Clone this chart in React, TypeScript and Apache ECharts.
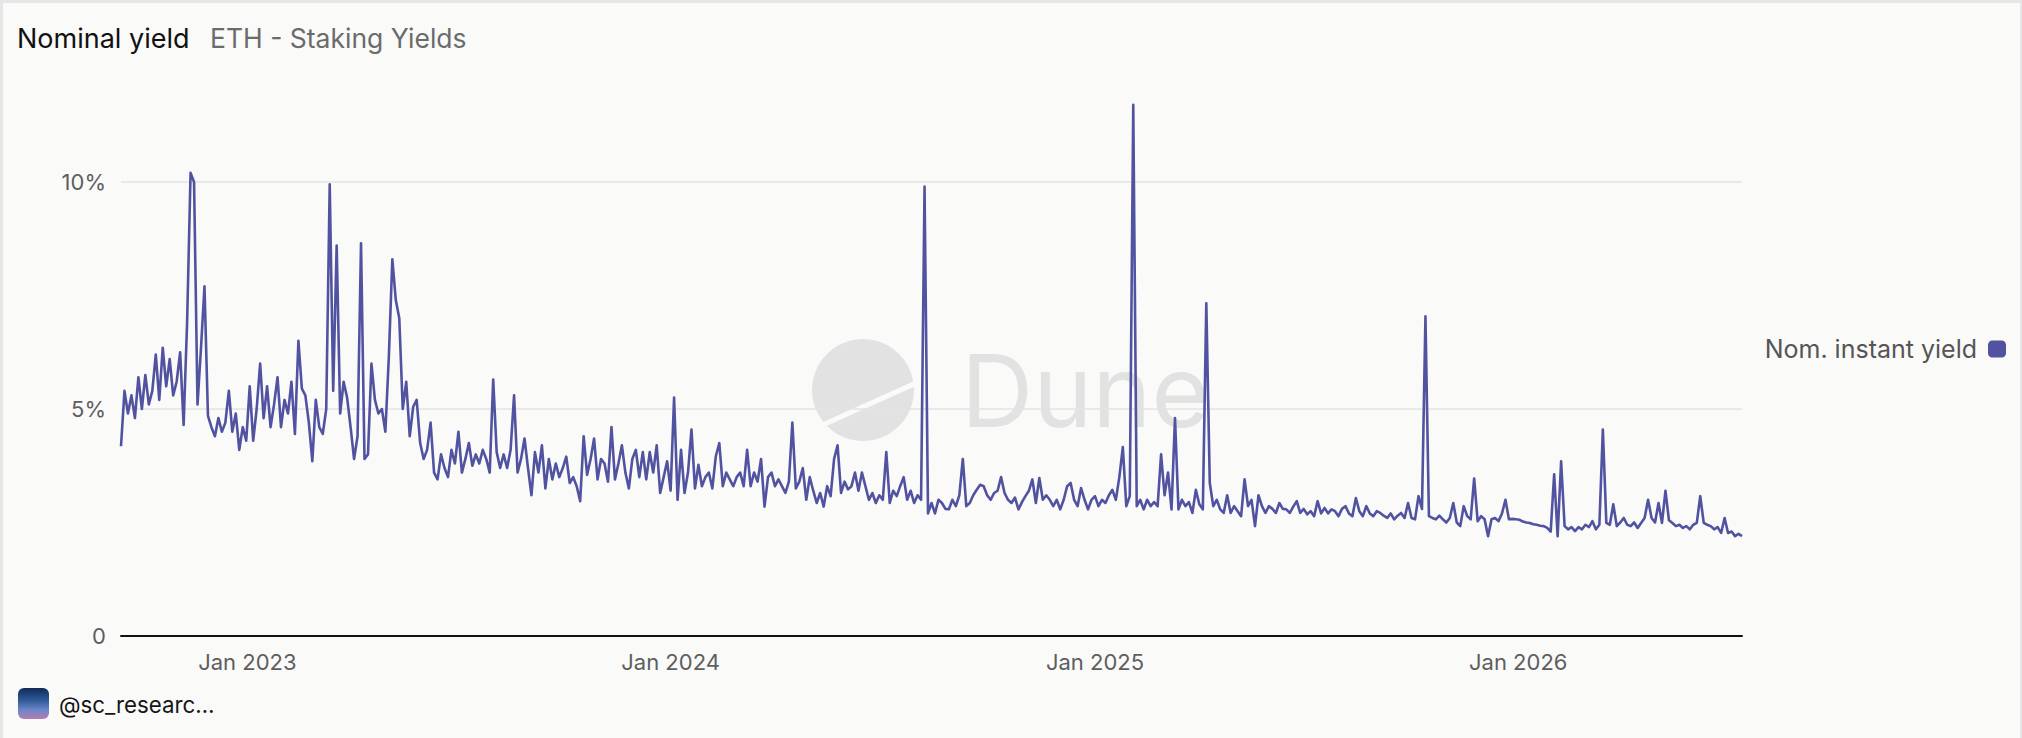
import React, { useEffect, useRef } from 'react';
import * as echarts from 'echarts';

// Series: "Nom. instant yield" (%), sampled every 3 days from 2022-09-14
const START_DATE = [2022, 8, 14];
const STEP_DAYS = 3;

const yieldSeg1 = [
  4.18, 5.4, 4.9, 5.3, 4.8, 5.7, 5.0, 5.75, 5.1, 5.4,
  6.2, 5.2, 6.35, 5.5, 6.1, 5.3, 5.6, 6.25, 4.65, 6.9,
  10.2, 10.0, 5.1, 6.35, 7.7, 4.85, 4.6, 4.4, 4.8, 4.5,
  4.7, 5.4, 4.5, 4.9, 4.1, 4.6, 4.3, 5.5, 4.3, 5.0,
  6.0, 4.8, 5.5, 4.6, 5.1, 5.7, 4.6, 5.2, 4.9, 5.6,
  4.45, 6.5, 5.45, 5.3, 4.7, 3.85, 5.2, 4.6, 4.45, 5.0,
];
const yieldSeg2 = [
  9.95, 5.4, 8.6, 4.9, 5.6, 5.25, 4.6, 3.9, 4.4, 8.65,
  3.9, 4.0, 6.0, 5.2, 4.9, 5.0, 4.5, 6.15, 8.3, 7.4,
  7.0, 5.0, 5.6, 4.4, 5.05, 5.2, 4.25, 3.9, 4.1, 4.7,
  3.6, 3.45, 4.0, 3.7, 3.5, 4.1, 3.8, 4.5, 3.6, 3.9,
  4.25, 3.75, 4.0, 3.8, 4.1, 3.9, 3.6, 5.65, 4.05, 3.7,
  4.0, 3.7, 4.1, 5.3, 3.6, 3.9, 4.35, 3.7, 3.1, 4.05,
];
const yieldSeg3 = [
  3.6, 4.2, 3.25, 3.9, 3.45, 3.8, 3.5, 3.7, 3.95, 3.37,
  3.5, 3.3, 2.97, 4.4, 3.55, 3.9, 4.35, 3.45, 3.9, 3.8,
  3.4, 4.6, 3.45, 3.8, 4.2, 3.6, 3.25, 3.9, 4.1, 3.5,
  4.05, 3.45, 4.05, 3.6, 4.2, 3.15, 3.5, 3.85, 3.2, 5.25,
  3.0, 4.1, 3.15, 3.6, 4.55, 3.25, 3.77, 3.3, 3.5, 3.6,
  3.25, 3.96, 4.25, 3.3, 3.6, 3.45, 3.3, 3.5, 3.6, 3.3,
];
const yieldSeg4 = [
  4.1, 3.3, 3.6, 3.4, 3.9, 2.85, 3.5, 3.6, 3.3, 3.45,
  3.3, 3.15, 3.4, 4.7, 3.25, 3.4, 3.7, 3.0, 3.5, 3.2,
  2.93, 3.15, 2.85, 3.3, 3.08, 3.9, 4.2, 3.15, 3.4, 3.23,
  3.3, 3.6, 3.2, 3.6, 3.3, 3.0, 3.15, 2.93, 3.1, 3.0,
  4.05, 2.93, 3.2, 3.08, 3.3, 3.5, 3.0, 3.2, 2.93, 3.1,
  3.0, 9.9, 2.7, 2.93, 2.7, 3.0, 2.93, 2.8, 2.79, 3.0,
];
const yieldSeg5 = [
  2.86, 3.1, 3.9, 2.86, 2.93, 3.1, 3.22, 3.33, 3.3, 3.1,
  3.0, 3.15, 3.2, 3.5, 3.15, 3.0, 2.93, 3.05, 2.79, 2.95,
  3.08, 3.2, 3.45, 2.93, 3.48, 3.0, 3.1, 3.0, 2.86, 3.0,
  2.79, 3.0, 3.3, 3.37, 3.0, 2.86, 3.26, 3.0, 2.79, 3.0,
  3.08, 2.86, 3.0, 2.93, 3.1, 3.22, 3.0, 3.5, 4.16, 2.86,
  3.08, 11.7, 2.86, 3.0, 2.79, 3.0, 2.86, 2.95, 2.86, 4.0,
];
const yieldSeg6 = [
  3.1, 3.6, 2.79, 4.8, 2.79, 3.0, 2.86, 2.95, 2.71, 3.22,
  2.9, 2.79, 7.33, 3.37, 2.86, 3.0, 2.79, 2.71, 3.1, 2.71,
  2.86, 2.75, 2.64, 3.45, 2.86, 3.0, 2.42, 3.1, 2.86, 2.71,
  2.86, 2.8, 2.71, 2.93, 2.8, 2.79, 2.71, 2.85, 2.97, 2.71,
  2.8, 2.68, 2.75, 2.64, 2.97, 2.7, 2.82, 2.7, 2.79, 2.75,
  2.64, 2.8, 2.86, 2.7, 2.64, 3.04, 2.75, 2.64, 2.86, 2.7,
];
const yieldSeg7 = [
  2.64, 2.75, 2.71, 2.65, 2.6, 2.7, 2.57, 2.65, 2.71, 2.6,
  2.93, 2.6, 2.57, 3.08, 2.8, 7.04, 2.64, 2.6, 2.57, 2.65,
  2.57, 2.5, 2.6, 2.93, 2.5, 2.42, 2.86, 2.64, 2.57, 3.47,
  2.53, 2.64, 2.57, 2.2, 2.57, 2.6, 2.53, 2.7, 3.0, 2.57,
  2.58, 2.57, 2.56, 2.52, 2.5, 2.49, 2.46, 2.45, 2.43, 2.42,
  2.38, 2.3, 3.56, 2.2, 3.85, 2.42, 2.35, 2.4, 2.31, 2.4,
];
const yieldSeg8 = [
  2.35, 2.45, 2.4, 2.53, 2.35, 2.45, 4.55, 2.49, 2.45, 2.9,
  2.42, 2.5, 2.6, 2.45, 2.42, 2.5, 2.38, 2.49, 2.6, 3.0,
  2.6, 2.5, 2.93, 2.49, 3.2, 2.55, 2.49, 2.42, 2.45, 2.38,
  2.42, 2.35, 2.45, 2.49, 3.08, 2.49, 2.45, 2.42, 2.35, 2.4,
  2.27, 2.6, 2.27, 2.3, 2.2, 2.25, 2.2,
];

const SERIES_NAME = 'Nom. instant yield';
const TITLE = 'Nominal yield';
const SUBTITLE = 'ETH - Staking Yields';
const HANDLE = '@sc_researc…';
const MONTHS = ['Jan', 'Feb', 'Mar', 'Apr', 'May', 'Jun', 'Jul', 'Aug', 'Sep', 'Oct', 'Nov', 'Dec'];

const BG = '#fafaf9';
const LINE = '#5153a1';
const FONT = 'Inter';

export default function App() {
  const ref = useRef<HTMLDivElement>(null);

  useEffect(() => {
    const el = ref.current;
    if (!el) return;
    const chart = echarts.init(el, null, { renderer: 'svg' });
    const values = [
      ...yieldSeg1, ...yieldSeg2, ...yieldSeg3, ...yieldSeg4,
      ...yieldSeg5, ...yieldSeg6, ...yieldSeg7, ...yieldSeg8,
    ];
    const data = values.map((v, i) => [
      new Date(START_DATE[0], START_DATE[1], START_DATE[2] + STEP_DAYS * i).getTime(),
      v,
    ]);

    chart.setOption({
      animation: false,
      backgroundColor: BG,
      grid: { left: 121, right: 280, top: 68.5, bottom: 102, containLabel: false, outerBoundsMode: 'none' },
      legend: {
        data: [SERIES_NAME],
        right: 16,
        top: 336,
        padding: 0,
        align: 'right',
        icon: 'roundRect',
        itemWidth: 18,
        itemHeight: 17,
        selectedMode: false,
        textStyle: { fontFamily: FONT, fontSize: 25, color: '#555555', lineHeight: 26, padding: [0, 6, 0, 0] },
      },
      xAxis: {
        type: 'time',
        min: 'dataMin',
        max: 'dataMax',
        axisLine: { show: true, lineStyle: { color: '#111111', width: 2 } },
        axisTick: { show: false },
        splitLine: { show: false },
        axisLabel: {
          fontFamily: FONT,
          fontSize: 22,
          color: '#5e5e5e',
          margin: 15,
          hideOverlap: false,
          formatter: (val: number) => {
            const d = new Date(val);
            if (d.getMonth() === 0 && d.getDate() === 1) return MONTHS[0] + ' ' + d.getFullYear();
            return '';
          },
        },
      },
      yAxis: {
        type: 'value',
        min: 0,
        max: 12.5,
        interval: 5,
        axisLine: { show: false },
        axisTick: { show: false },
        splitLine: {
          show: true,
          showMinLine: false,
          showMaxLine: false,
          lineStyle: { color: '#e3e3e3', width: 1.5 },
        },
        axisLabel: {
          fontFamily: FONT,
          fontSize: 22,
          color: '#5e5e5e',
          margin: 15,
          showMaxLabel: false,
          formatter: (v: number) => (v === 0 ? '0' : v % 5 === 0 ? v + '%' : ''),
        },
      },
      series: [
        {
          name: SERIES_NAME,
          type: 'line',
          data,
          symbol: 'none',
          showSymbol: false,
          z: 3,
          lineStyle: { color: LINE, width: 2.6, join: 'round' },
          itemStyle: { color: LINE },
        },
      ],
      graphic: {
        elements: [
          { type: 'rect', silent: true, shape: { x: 0, y: 0, width: 3, height: 738 }, style: { fill: '#e6e6e6' } },
          { type: 'rect', silent: true, shape: { x: 0, y: 0, width: 2022, height: 3 }, style: { fill: '#e6e6e6' } },
          { type: 'rect', silent: true, shape: { x: 2020, y: 0, width: 2, height: 738 }, style: { fill: '#e6e6e6' } },
          {
            type: 'circle', silent: true, z: -10,
            shape: { cx: 863, cy: 390, r: 51 },
            style: { fill: '#e2e2e2' },
          },
          {
            type: 'line', silent: true, z: -9,
            shape: { x1: 808, y1: 431.5, x2: 922, y2: 380.4 },
            style: { stroke: BG, lineWidth: 5 },
          },
          {
            type: 'text', silent: true, z: -10, x: 961, y: 390,
            style: { text: 'Dune', fontFamily: FONT, fontSize: 100, fill: '#e2e2e2', verticalAlign: 'middle', textVerticalAlign: 'middle' },
          },
          {
            type: 'text', silent: true, x: 17, y: 38,
            style: { text: TITLE, fontFamily: FONT, fontSize: 27, fill: '#111111', verticalAlign: 'middle', textVerticalAlign: 'middle' },
          },
          {
            type: 'text', silent: true, x: 210, y: 38,
            style: { text: SUBTITLE, fontFamily: FONT, fontSize: 26.5, fill: '#6b6b6b', verticalAlign: 'middle', textVerticalAlign: 'middle' },
          },
          {
            type: 'rect', silent: true,
            shape: { x: 18, y: 688, width: 31, height: 31, r: 6 },
            style: {
              fill: new echarts.graphic.LinearGradient(0, 0, 0, 1, [
                { offset: 0, color: '#102a58' },
                { offset: 0.4, color: '#2f5a98' },
                { offset: 0.7, color: '#6a86c8' },
                { offset: 1, color: '#b67cb4' },
              ]),
            },
          },
          {
            type: 'text', silent: true, x: 59, y: 704,
            style: { text: HANDLE, fontFamily: FONT, fontSize: 22.3, fill: '#161616', verticalAlign: 'middle', textVerticalAlign: 'middle' },
          },
        ],
      },
    });

    return () => chart.dispose();
  }, []);

  return (
    <div
      ref={ref}
      style={{ position: 'fixed', left: 0, top: 0, width: 2022, height: 738, background: BG }}
    />
  );
}
